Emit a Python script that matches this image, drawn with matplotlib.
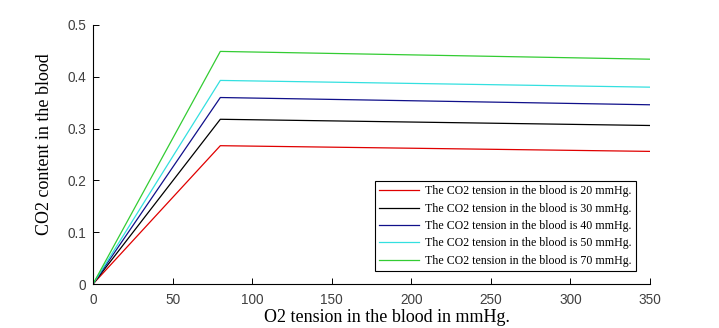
import numpy as np
import matplotlib
matplotlib.use('Agg')
import matplotlib.pyplot as plt

# O2 tension points (mmHg) where the curves bend
o2_tension = [0, 80, 350]

# CO2 content for each CO2 tension series
co2_20 = [0, 0.267, 0.256]
co2_30 = [0, 0.318, 0.306]
co2_40 = [0, 0.360, 0.346]
co2_50 = [0, 0.393, 0.380]
co2_70 = [0, 0.449, 0.434]

labels = ['The CO2 tension in the blood is 20 mmHg.',
          'The CO2 tension in the blood is 30 mmHg.',
          'The CO2 tension in the blood is 40 mmHg.',
          'The CO2 tension in the blood is 50 mmHg.',
          'The CO2 tension in the blood is 70 mmHg.']
colors = ['#e00000', '#000000', '#10108a', '#33e0e0', '#33cc33']

xticks = [0, 50, 100, 150, 200, 250, 300, 350]
yticks = [0, 0.1, 0.2, 0.3, 0.4, 0.5]
yticklabels = ['0', '0.1', '0.2', '0.3', '0.4', '0.5']

fig = plt.figure(figsize=(7.19, 3.28), dpi=100)
ax = fig.add_axes([93/719, 44/328, 557/719, 259/328])

series = [co2_20, co2_30, co2_40, co2_50, co2_70]
for vals, lab, col in zip(series, labels, colors):
    ax.plot(o2_tension, vals, color=col, lw=0.9, label=lab)

ax.set_xlim(0, 350)
ax.set_ylim(0, 0.5)
ax.set_xticks(xticks)
ax.set_yticks(yticks)
ax.set_yticklabels(yticklabels)
ax.spines['top'].set_visible(False)
ax.spines['right'].set_visible(False)
for s in ['left', 'bottom']:
    ax.spines[s].set_linewidth(0.8)
ax.tick_params(direction='in', length=4, width=0.7, labelsize=9.8,
               labelcolor='#404040')
ax.tick_params(axis='x', pad=6.5)
ax.tick_params(axis='y', pad=5)
for t in ax.get_xticklabels() + ax.get_yticklabels():
    t.set_family('Liberation Sans')

ax.set_xlabel('O2 tension in the blood in mmHg.', family='Liberation Serif',
              fontsize=13)
ax.set_ylabel('CO2 content in the blood', family='Liberation Serif',
              fontsize=13)
ax.xaxis.set_label_coords(0.528, -0.095)
ax.yaxis.set_label_coords(-0.071, 0.54)

leg = ax.legend(loc='lower right', bbox_to_anchor=(0.975, 0.05),
                prop={'family': 'Liberation Serif', 'size': 8.6},
                frameon=True, fancybox=False, framealpha=1,
                edgecolor='black', handlelength=3.4, handletextpad=0.5,
                labelspacing=0.45, borderpad=0.35, borderaxespad=0)
leg.get_frame().set_linewidth(0.8)

plt.savefig('out.png', dpi=100)
